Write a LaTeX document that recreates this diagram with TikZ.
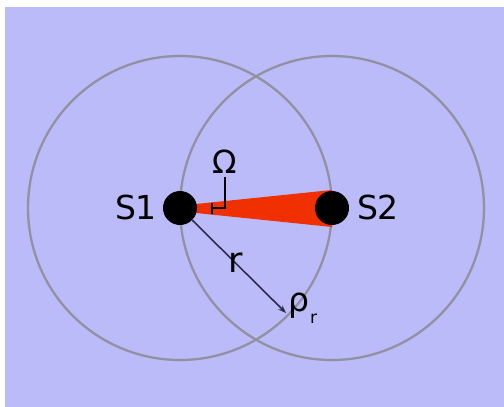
\documentclass[tikz,border=0pt]{standalone}
\usepackage{fontspec}
\setmainfont{DejaVu Sans}
\usetikzlibrary{arrows.meta}
\definecolor{bg}{RGB}{187,187,250}
\definecolor{wedge}{RGB}{240,48,0}
\definecolor{ring}{RGB}{145,145,162}
\definecolor{arrowcol}{RGB}{45,45,75}
\begin{document}
\begin{tikzpicture}[x=1pt,y=-1pt,
  dot/.style={circle,fill=black,minimum size=34pt,inner sep=0pt},
  lbl/.style={font=\fontsize{33}{36}\selectfont,inner sep=0pt},
  ringline/.style={draw=ring,line width=2.3pt},
  leader/.style={line width=1.7pt,black}]
\useasboundingbox (0,0) rectangle (504,407);
\fill[bg] (5,7) rectangle (504,407);
\coordinate (c1) at (180,208);
\coordinate (c2) at (332,208);
\draw[ringline] (c1) circle (152pt);
\draw[ringline] (c2) circle (152pt);
\fill[wedge] (196,204) -- (332,190) -- (332,227) -- (196,213) -- cycle;
\node[dot] (s1) at (c1) {};
\node[dot] (s2) at (c2) {};
\node[lbl] (l1) at (136,207) {S1};
\node[lbl] (l2) at (378,207) {S2};
\node[lbl,font=\fontsize{32}{36}\selectfont] (om) at (225,162) {Ω};
\coordinate (corner) at (225,208);
\coordinate (tk) at (212,208);
\coordinate (tka) at (212,203);
\coordinate (tkb) at (212,214);
\draw[leader] (om.south) ++(0,3) -- (corner) -- (tk);
\draw[leader] (tka) -- (tkb);
\coordinate (pe) at (286,313);
\draw[arrowcol,line width=1.6pt,-{Stealth[length=8pt,width=6pt]}] (s1) -- (pe);
\node[lbl,font=\fontsize{35}{38}\selectfont] (r) at (236,263) {r};
\node[lbl] (rho) at (299,306) {ρ};
\node[inner sep=0pt,font=\fontsize{17}{18}\selectfont] (sub) at (313.5,319) {r};
\end{tikzpicture}
\end{document}
